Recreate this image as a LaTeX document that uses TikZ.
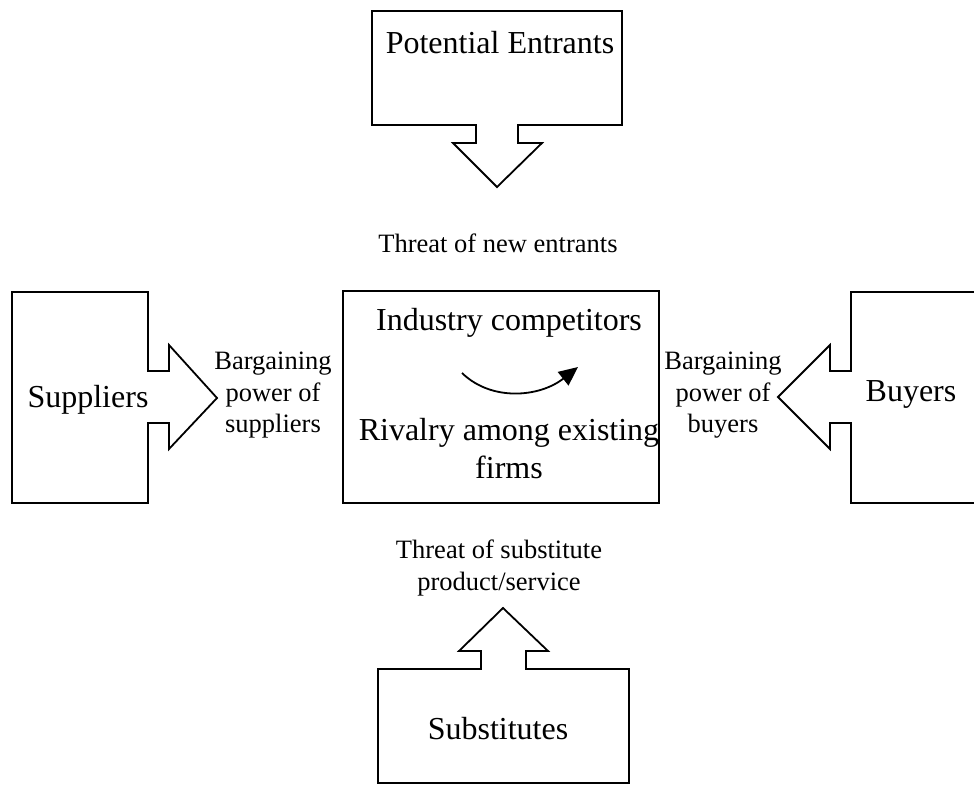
\documentclass[tikz,border=0pt]{standalone}
\usepackage{fontspec}
\setmainfont{Liberation Serif}
\usetikzlibrary{arrows.meta}
\begin{document}
\begin{tikzpicture}[x=1pt,y=-1pt,
  shapeline/.style={draw=black,line width=1.8pt,line join=miter},
  bigtext/.style={anchor=base,inner sep=0pt,font=\fontsize{32}{36}\selectfont},
  smalltext/.style={anchor=base,inner sep=0pt,font=\fontsize{26.5}{31}\selectfont},
  rivalarrow/.style={line width=1.8pt,-{Triangle[length=19pt,width=17pt]}}]
\useasboundingbox (0,0) rectangle (974,800);

% Potential entrants: box with a downward arrow
\draw[shapeline] (372,11) -- (622,11) -- (622,125) -- (518,125) -- (518,143) -- (542,143)
  -- (497,187) -- (453,143) -- (476,143) -- (476,125) -- (372,125) -- cycle;
\node[bigtext] (entrants) at (500,53) {Potential Entrants};

% Suppliers: box with a right arrow
\draw[shapeline] (12,292) -- (148,292) -- (148,371) -- (169,371) -- (169,345) -- (217,398)
  -- (169,449) -- (169,423) -- (148,423) -- (148,503) -- (12,503) -- cycle;
\node[bigtext] (suppliers) at (88,407) {Suppliers};

% Buyers: box running off the right edge, with a left arrow
\draw[shapeline] (974,292) -- (851,292) -- (851,371) -- (830,371) -- (830,345) -- (778,397)
  -- (830,449) -- (830,423) -- (851,423) -- (851,503) -- (974,503);
\node[bigtext] (buyers) at (911,401) {Buyers};

% Industry competitors
\draw[shapeline] (343,291) rectangle (659,503);
\node[bigtext] (industry) at (509,330) {Industry competitors};
\node[bigtext] (rivalry1) at (509,440) {Rivalry among existing};
\node[bigtext] (rivalry2) at (509,478) {firms};
\coordinate (rs) at (462,373);
\coordinate (re) at (578,367);
\draw[rivalarrow] (rs) .. controls (492,402) and (540,397) .. (re);

% Substitutes: box with an upward arrow
\draw[shapeline] (378,669) -- (481,669) -- (481,651) -- (459,651) -- (503,608) -- (548,651)
  -- (526,651) -- (526,669) -- (629,669) -- (629,783) -- (378,783) -- cycle;
\node[bigtext] (substitutes) at (498,739) {Substitutes};

% Force labels
\node[smalltext] (newthreat) at (498,252) {Threat of new entrants};
\node[smalltext] (supA) at (273,369) {Bargaining};
\node[smalltext] (supB) at (273,401) {power of};
\node[smalltext] (supC) at (273,432) {suppliers};
\node[smalltext] (buyA) at (723,369) {Bargaining};
\node[smalltext] (buyB) at (723,401) {power of};
\node[smalltext] (buyC) at (723,432) {buyers};
\node[smalltext] (subA) at (499,558) {Threat of substitute};
\node[smalltext] (subB) at (499,590) {product/service};
\end{tikzpicture}
\end{document}
